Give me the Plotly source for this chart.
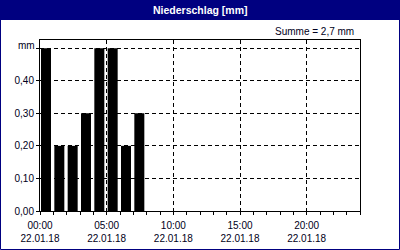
import plotly.graph_objects as go

# ---- data ----
times = ["2018-01-22 00:00", "2018-01-22 01:00", "2018-01-22 02:00", "2018-01-22 03:00",
         "2018-01-22 04:00", "2018-01-22 05:00", "2018-01-22 06:00", "2018-01-22 07:00"]
values = [0.5, 0.2, 0.2, 0.3, 0.5, 0.5, 0.2, 0.3]
y_ticks = [0.0, 0.1, 0.2, 0.3, 0.4, 0.5]
y_tick_labels = ["0,00", "0,10", "0,20", "0,30", "0,40", ""]
title_text = "Niederschlag [mm]"
sum_text = "Summe = 2,7 mm"
unit_text = "mm"
x_range = ["2018-01-22 00:00", "2018-01-23 00:00"]

W, H = 400, 250
L, R, T, B = 40, 40, 40, 39
PW, PH = W - L - R, H - T - B
NAVY = "#000080"
TXT = "#000020"
FONT = "Liberation Sans"


def px(x):
    return (x - L) / PW


def py(y):
    return (H - B - y) / PH


fig = go.Figure()
fig.add_trace(go.Bar(
    x=times, y=values,
    marker=dict(color="black", line=dict(width=0)),
    width=2700000, offset=270000,
    hoverinfo="skip",
))

fig.update_layout(
    width=W, height=H, autosize=False,
    margin=dict(l=L, r=R, t=T, b=B, pad=0),
    paper_bgcolor="white", plot_bgcolor="white",
    separators=",.",
    showlegend=False,
    font=dict(family=FONT, size=10, color=TXT),
    xaxis=dict(
        type="date", range=x_range,
        tick0="2018-01-22 00:00", dtick=5 * 3600000,
        tickformat="%H:%M<br>%d.%m.%y",
        ticks="outside", ticklen=3, tickcolor="black",
        ticklabelstandoff=2, automargin=False,
        showline=True, linecolor="black", linewidth=1, mirror=True,
        showgrid=True, gridcolor="black", gridwidth=1, griddash="4px,3px",
        minor=dict(dtick=3600000, ticks="outside", ticklen=3, tickcolor="black", showgrid=False),
        tickfont=dict(family=FONT, size=10, color=TXT),
        fixedrange=True,
    ),
    yaxis=dict(
        range=[0, 0.525],
        tickvals=y_ticks, ticktext=y_tick_labels,
        ticks="outside", ticklen=3, tickcolor="black",
        automargin=False,
        showline=True, linecolor="black", linewidth=1, mirror=True,
        showgrid=True, gridcolor="black", gridwidth=1, griddash="4px,3px",
        zeroline=False,
        tickfont=dict(family=FONT, size=10, color=TXT),
        fixedrange=True,
    ),
    shapes=[
        dict(type="rect", xref="paper", yref="paper",
             x0=px(0), x1=px(W), y0=py(20), y1=py(0),
             fillcolor=NAVY, line=dict(width=0), layer="above"),
        dict(type="rect", xref="paper", yref="paper",
             x0=px(0.5), x1=px(W - 0.5), y0=py(H - 0.5), y1=py(0.5),
             fillcolor="rgba(0,0,0,0)", line=dict(color=NAVY, width=1), layer="above"),
    ],
    annotations=[
        dict(text="<b>" + title_text + "</b>", xref="paper", yref="paper",
             x=px(W / 2), y=py(10), xanchor="center", yanchor="middle",
             showarrow=False, font=dict(family=FONT, size=10.5, color="white")),
        dict(text=sum_text, xref="paper", yref="paper",
             x=px(356), y=py(31), xanchor="right", yanchor="middle",
             showarrow=False, font=dict(family=FONT, size=10, color=TXT)),
        dict(text=unit_text, xref="paper", yref="paper",
             x=px(37), y=py(45), xanchor="right", yanchor="middle",
             showarrow=False, font=dict(family=FONT, size=10, color=TXT)),
    ],
)

fig.write_html("out.html", config={"displayModeBar": False, "staticPlot": True})
